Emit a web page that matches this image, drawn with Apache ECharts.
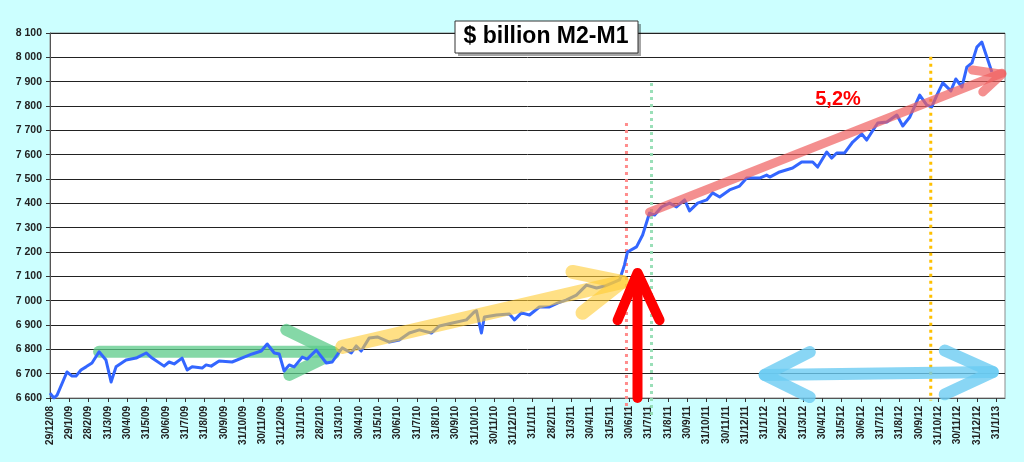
<!DOCTYPE html>
<html><head><meta charset="utf-8">
<script src="https://cdn.jsdelivr.net/npm/echarts@6/dist/echarts.min.js"></script>
<style>html,body{margin:0;padding:0;background:#CCFFFF;}#c{width:1024px;height:462px;}</style>
</head><body><div id="c"></div>
<script>
// month labels (one per month end)
const monthLabels = ['29/12/08','29/1/09','28/2/09','31/3/09','30/4/09','31/5/09','30/6/09','31/7/09','31/8/09','30/9/09','31/10/09','30/11/09','31/12/09','31/1/10','28/2/10','31/3/10','30/4/10','31/5/10','30/6/10','31/7/10','31/8/10','30/9/10','31/10/10','30/11/10','31/12/10','31/1/11','28/2/11','31/3/11','30/4/11','31/5/11','30/6/11','31/7/11','31/8/11','30/9/11','31/10/11','30/11/11','31/12/11','31/1/12','29/2/12','31/3/12','30/4/12','31/5/12','30/6/12','31/7/12','31/8/12','30/9/12','31/10/12','30/11/12','31/12/12','31/1/13'];
// position of each observation (measured units; MU converts to months)
const MU = 1.0207;
const months = [0,0.2,0.36,0.86,1.12,1.32,1.57,1.83,2.13,2.49,2.84,3.10,3.35,3.86,4.37,4.88,5.18,5.79,6.04,6.30,6.70,6.96,7.21,7.72,7.92,8.18,8.58,9.24,9.85,10.26,10.72,11.02,11.38,11.63,11.88,12.14,12.39,12.80,13.05,13.51,14.02,14.32,14.68,14.83,15.29,15.54,15.79,16.20,16.61,17.22,17.72,18.23,18.74,19.35,19.76,20.42,21.13,21.53,21.64,21.89,22.04,22.65,23.31,23.57,23.92,24.33,24.83,25.34,25.75,26.21,26.71,27.22,27.73,28.14,28.54,28.90,29.15,29.30,29.76,30.07,30.42,30.68,31.03,31.44,31.79,32.20,32.45,32.86,33.32,33.62,33.98,34.48,34.99,35.35,36.01,36.36,36.52,37.02,37.68,38.14,38.70,38.95,39.41,39.66,39.92,40.32,40.73,41.19,41.44,41.70,42.00,42.46,42.97,43.27,43.63,44.13,44.49,44.74,45.00,45.30,45.71,45.96,46.27,46.52,46.78,47.03,47.28,47.79];
// M2-M1, $ billion
const values = [6620,6600,6612,6707,6690,6690,6715,6728,6744,6790,6756,6666,6728,6756,6764,6785,6764,6731,6748,6740,6764,6715,6728,6723,6736,6731,6752,6748,6768,6781,6793,6822,6785,6781,6711,6736,6728,6768,6760,6797,6744,6748,6790,6806,6785,6814,6793,6847,6851,6830,6838,6867,6880,6867,6896,6908,6921,6954,6958,6867,6933,6941,6945,6921,6950,6941,6974,6974,6990,7003,7023,7064,7052,7060,7073,7085,7147,7200,7221,7270,7360,7352,7385,7401,7385,7414,7369,7401,7414,7443,7426,7455,7471,7504,7504,7516,7508,7529,7545,7570,7570,7549,7611,7586,7607,7607,7652,7685,7660,7693,7730,7734,7763,7718,7755,7845,7804,7796,7845,7895,7862,7911,7878,7960,7977,8042,8063,7940];

// annotation arrows [position, value]
const greenShaft = [[2.49,6790],[14.32,6790]];
const greenHead = [[11.99,6880],[14.42,6785],[12.14,6695]];
const yellowShaft = [[14.83,6810],[29.05,7077]];
const yellowHead = [[26.51,7118],[29.0,7077],[27.02,6950]];
const redShaft = [[30.42,7364],[48.3,7935]];
const redHead = [[46.8,7948],[48.3,7931],[47.33,7858]];
const upShaft = [[29.81,6600],[29.81,7100]];
const upHead = [[28.8,6920],[29.81,7114],[30.93,6920]];
const blueShaft = [[36.26,6695],[47.84,6707]];
const blueHeadL = [[38.55,6789],[36.26,6695],[38.55,6604]];
const blueHeadR = [[45.4,6795],[47.84,6707],[45.4,6615]];
const redDotted = [[29.25,7730],[29.25,6550]];
const greenDotted = [[30.52,7895],[30.52,6530]];
const orangeDotted = [[44.69,8002],[44.69,6590]];

const pts = a => a.map(p => [p[0]*MU, p[1]]);
function deco(data, color, width, opacity, z, dashed) {
  return {type:'line', data: pts(data), symbol:'none', silent:true, clip:false, z,
    lineStyle:{color, width, opacity, cap: dashed ? 'butt' : 'round', join:'round', type: dashed ? [3,4] : 'solid'}};
}
const fmt = v => String(v).replace(/\B(?=(\d{3})+$)/g,' ');

const chart = echarts.init(document.getElementById('c'));
chart.setOption({
  animation:false,
  backgroundColor:'#CCFFFF',
  grid:{left:50,right:19,top:33,bottom:64,show:true,backgroundColor:'#fff',borderColor:'#8c8c8c',borderWidth:1},
  xAxis:{type:'value',min:0,max:49.46,interval:1,
    axisLine:{onZero:false,lineStyle:{color:'#555'}},
    axisTick:{show:true,length:4,lineStyle:{color:'#333'}},
    splitLine:{show:false},
    axisLabel:{rotate:90,fontSize:10,fontWeight:'bold',color:'#222',fontFamily:'Arial, Liberation Sans',margin:8,showMaxLabel:false,
      formatter:v=>Number.isInteger(v)?(monthLabels[v]||''):''}},
  yAxis:{type:'value',min:6600,max:8100,interval:100,
    axisLine:{show:true,lineStyle:{color:'#555'}},
    axisTick:{show:true,length:4,lineStyle:{color:'#333'}},
    splitLine:{lineStyle:{color:'#222',width:1}},
    axisLabel:{fontSize:10.5,fontWeight:'bold',color:'#222',fontFamily:'Arial, Liberation Sans',formatter:fmt}},
  series:[
    deco(redDotted,'#FF8080',3,0.9,2,true),
    deco(greenDotted,'#8FDCB0',3,0.9,2,true),
    deco(orangeDotted,'#FFC000',3,1,2,true),
    deco(greenShaft,'#5CCB8A',12,0.75,3),
    deco(greenHead,'#5CCB8A',12,0.75,3),
    {type:'line',data:months.map((m,i)=>[m*MU,values[i]]),symbol:'none',z:5,
      lineStyle:{color:'#3366FF',width:3,join:'round'}},
    deco(yellowShaft,'#FFCC33',14,0.6,6),
    deco(yellowHead,'#FFCC33',14,0.6,6),
    deco(redShaft,'#F06060',9,0.7,6),
    deco(redHead,'#F06060',9,0.7,6),
    deco(upShaft,'#FF0000',10,1,7),
    deco(upHead,'#FF0000',10,1,7),
    deco(blueShaft,'#6CCCF2',12,0.8,6),
    deco(blueHeadL,'#6CCCF2',12,0.8,6),
    deco(blueHeadR,'#6CCCF2',12,0.8,6)
  ],
  graphic:[
    {type:'rect',shape:{x:458,y:24,width:183,height:32},style:{fill:'rgba(0,0,0,0.35)'},z:10},
    {type:'rect',shape:{x:455,y:21,width:183,height:32},style:{fill:'#fff',stroke:'#333',lineWidth:1},z:11},
    {type:'text',x:546,y:37,style:{text:'$ billion M2-M1',font:'bold 23px Arial, "Liberation Sans"',fill:'#000',textAlign:'center',textVerticalAlign:'middle'},z:12},
    {type:'text',x:838,y:99,style:{text:'5,2%',font:'bold 20px Arial, "Liberation Sans"',fill:'#FF0000',textAlign:'center',textVerticalAlign:'middle'},z:12}
  ]
});
</script></body></html>
